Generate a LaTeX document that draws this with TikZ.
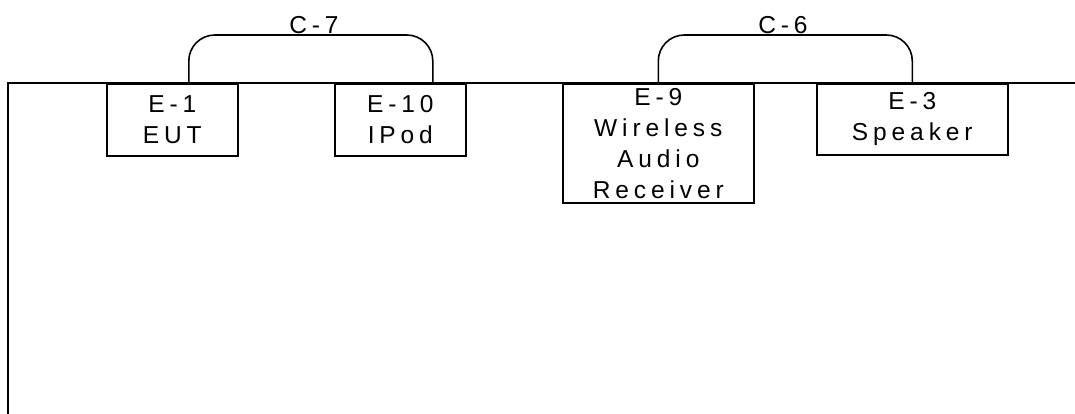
\documentclass[tikz,border=0pt]{standalone}
\usepackage{fontspec}
\setmainfont{Liberation Sans}
\newfontfamily\spacedfont[LetterSpace=20]{Liberation Sans}
\begin{document}
\begin{tikzpicture}[x=1pt,y=-1pt,
  lbl/.style={font=\spacedfont\fontsize{24.5}{31}\selectfont, align=center, inner sep=0pt},
  devbox/.style={draw, line width=1.6pt, anchor=north west, lbl},
  wire/.style={line width=1.6pt},
  cable/.style={line width=1.6pt, rounded corners=26pt}]
\useasboundingbox (0,0) rectangle (1075,414);
% frame lines
\coordinate (tl) at (8,83);
\coordinate (tr) at (1075,83);
\coordinate (bl) at (8,414);
\draw[wire] (bl) -- (tl) -- (tr);
% boxes
\node[devbox, minimum width=131pt, minimum height=72pt] (e1) at (106,83) {E-1\\EUT};
\node[devbox, minimum width=131pt, minimum height=72pt] (e10) at (334,83) {E-10\\IPod};
\node[devbox, minimum width=191pt, minimum height=119pt] (e9) at (562,83) {E-9\\Wireless\\Audio\\Receiver};
\node[devbox, minimum width=191pt, minimum height=71pt] (e3) at (816,83) {E-3\\Speaker};
% cables
\draw[cable] ([xshift=16.5pt]e1.north) -- ++(0,-48) -| ([xshift=32.5pt]e10.north);
\draw[cable] (e9.north) -- ++(0,-48) -| (e3.north);
\node[lbl] (c7) at (314,25) {C-7};
\node[lbl] (c6) at (783,25) {C-6};
\end{tikzpicture}
\end{document}
